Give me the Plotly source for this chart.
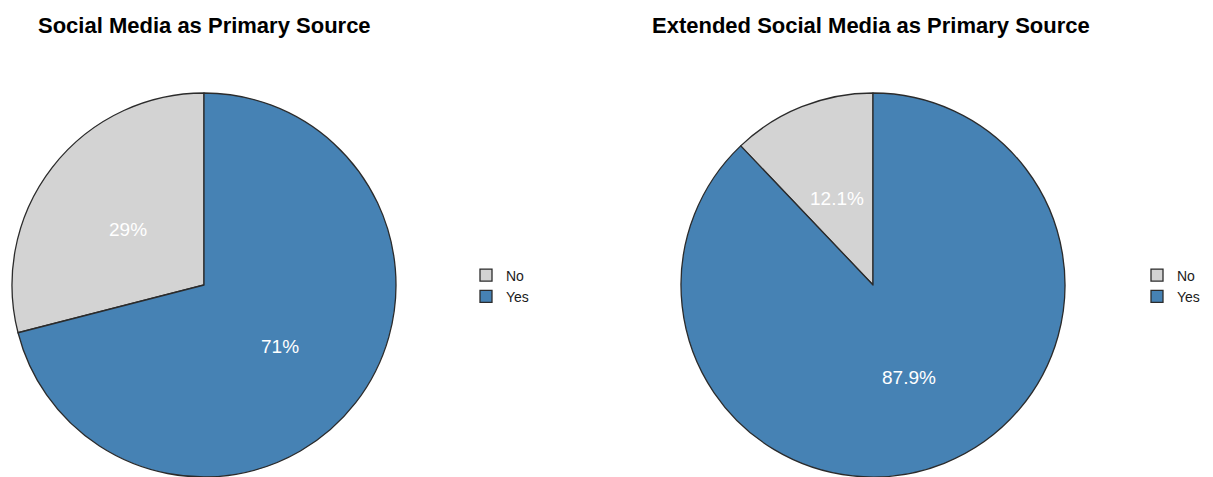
import math
import plotly.graph_objects as go

W, H = 1213, 477

categories = ["No", "Yes"]
social_media = [29, 71]
extended_social_media = [12.1, 87.9]
label_left = ["29%", "71%"]
label_right = ["12.1%", "87.9%"]
titles = ["Social Media as Primary Source", "Extended Social Media as Primary Source"]
colors = ["#D3D3D3", "#4682B4"]

# layout (pixels)
pies = [
    dict(values=social_media, labels_txt=label_left, cats=categories,
         x0=12, title_x=36, legend="legend", leg_x=466),
    # trailing space keeps the second legend's keys distinct from the first
    dict(values=extended_social_media, labels_txt=label_right, cats=[c + " " for c in categories],
         x0=681, title_x=650, legend="legend2", leg_x=1137),
]
SIZE = 384
TOP = 93

fig = go.Figure()
annotations = []
for p in pies:
    dom_x = [p["x0"] / W, (p["x0"] + SIZE) / W]
    dom_y = [(H - TOP - SIZE) / H, (H - TOP) / H]
    total = sum(p["values"])
    fig.add_trace(go.Pie(
        labels=p["cats"],
        values=p["values"],
        sort=False,
        direction="clockwise",
        rotation=-360.0 * p["values"][0] / total,
        marker=dict(colors=colors, line=dict(color="#2b2b2b", width=1.3)),
        textinfo="none",
        domain=dict(x=dom_x, y=dom_y),
        legend=p["legend"],
        hoverinfo="label+percent",
    ))
    # percentage labels at half radius, mid-angle of each slice (counterclockwise from top)
    cx = p["x0"] + SIZE / 2
    cy = TOP + SIZE / 2
    r = SIZE / 2
    cum = 0.0
    for v, t in zip(p["values"], p["labels_txt"]):
        theta = 2 * math.pi * (cum + v / 2) / total
        px = cx - 0.5 * r * math.sin(theta)
        py = cy - 0.5 * r * math.cos(theta)
        annotations.append(dict(
            x=px / W, y=(H - py) / H, xref="paper", yref="paper",
            text=t, showarrow=False, xanchor="center", yanchor="middle", yshift=-3,
            font=dict(family="Liberation Sans, Arial, sans-serif", size=19, color="white"),
        ))
        cum += v

for p, t in zip(pies, titles):
    annotations.append(dict(
        x=p["title_x"] / W, y=(H - 25) / H, xref="paper", yref="paper",
        text="<b>" + t + "</b>", showarrow=False, xanchor="left", yanchor="middle",
        font=dict(family="Liberation Sans, Arial, sans-serif", size=22, color="black"),
    ))

legend_style = dict(
    yanchor="middle", xanchor="left",
    font=dict(family="Liberation Sans, Arial, sans-serif", size=14, color="#1a1a1a"),
    bgcolor="rgba(0,0,0,0)", traceorder="normal",
)
fig.update_layout(
    width=W, height=H,
    margin=dict(l=0, r=0, t=0, b=0),
    paper_bgcolor="white",
    plot_bgcolor="white",
    showlegend=True,
    legend=dict(x=pies[0]["leg_x"] / W, y=(H - 286) / H, **legend_style),
    legend2=dict(x=pies[1]["leg_x"] / W, y=(H - 286) / H, **legend_style),
    annotations=annotations,
)

fig.write_html("out.html")
